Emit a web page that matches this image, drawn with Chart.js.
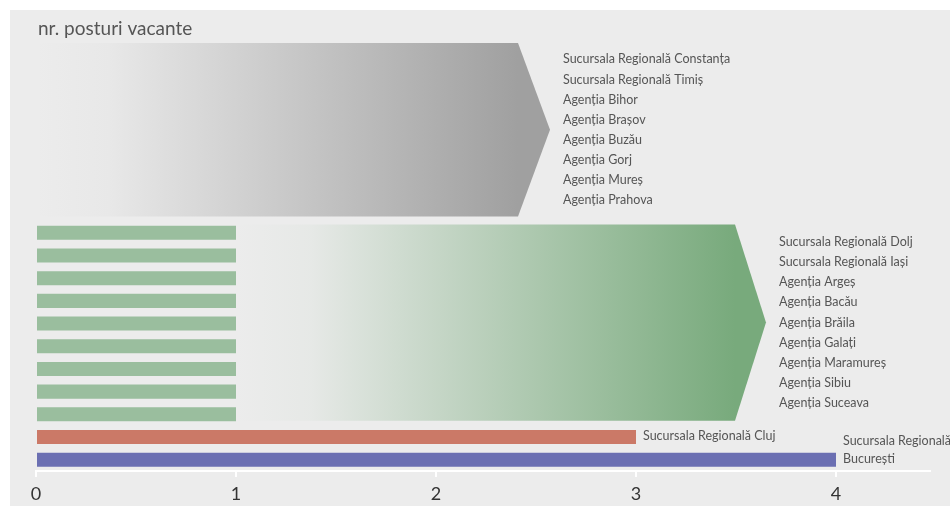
<!DOCTYPE html>
<html>
<head>
<meta charset="utf-8">
<script src="https://cdn.jsdelivr.net/npm/chart.js@4/dist/chart.umd.min.js"></script>
<style>
  html, body { margin: 0; padding: 0; background: #fff; }
  #wrap { width: 950px; height: 506px; }
</style>
</head>
<body>
<div id="wrap"><canvas id="vacancyChart" width="950" height="506"></canvas></div>
<script>
// agencies with no vacancies (grey arrow)
const noVacancy = [
  "Sucursala Regională Constanța",
  "Sucursala Regională Timiș",
  "Agenția Bihor",
  "Agenția Brașov",
  "Agenția Buzău",
  "Agenția Gorj",
  "Agenția Mureș",
  "Agenția Prahova",
];
// agencies with one vacancy (green arrow)
const oneVacancy = [
  "Sucursala Regională Dolj",
  "Sucursala Regională Iași",
  "Agenția Argeș",
  "Agenția Bacău",
  "Agenția Brăila",
  "Agenția Galați",
  "Agenția Maramureș",
  "Agenția Sibiu",
  "Agenția Suceava",
];
const others = ["Sucursala Regională Cluj", "Sucursala Regională București"];
const othersValues = [3, 4];
const othersLines = [["Sucursala Regională Cluj"], ["Sucursala Regională", "București"]];
const xTicks = [0, 1, 2, 3, 4];

const categories = [...noVacancy, ...oneVacancy, ...others];
const vacancies = [...noVacancy.map(() => 0), ...oneVacancy.map(() => 1), ...othersValues];
const barColors = [
  ...noVacancy.map(() => "#a5a5a5"),
  ...oneVacancy.map(() => "#9abe9e"),
  "#cb7967",
  "#6b6fb2",
];

const FONT = "Lato, 'Open Sans', sans-serif";
const TEXT = "#555555";

// panel background + title
const panelPlugin = {
  id: "panel",
  beforeDraw(chart) {
    const ctx = chart.ctx;
    ctx.save();
    ctx.fillStyle = "#ececec";
    ctx.fillRect(10, 10, chart.width - 10, chart.height - 10);
    ctx.fillStyle = TEXT;
    ctx.font = "19px " + FONT;
    ctx.textBaseline = "middle";
    ctx.fillText("nr. posturi vacante", 38, 29);
    ctx.restore();
  },
};

// gradient arrows behind the groups + their name lists
const arrowPlugin = {
  id: "arrows",
  beforeDatasetsDraw(chart) {
    const { ctx, scales } = chart;
    const x = scales.x, y = scales.y;
    const step = y.getPixelForValue(1) - y.getPixelForValue(0);
    const groups = [
      { from: 0, to: noVacancy.length - 1, x0: 0, x1: 2.41, tip: 2.57, color: [160, 160, 160], names: noVacancy },
      { from: noVacancy.length, to: noVacancy.length + oneVacancy.length - 1, x0: 1, x1: 3.495, tip: 3.65, color: [120, 170, 124], names: oneVacancy },
    ];
    groups.forEach(g => {
      const top = y.getPixelForValue(g.from) - step / 2 + 3;
      const bot = y.getPixelForValue(g.to) + step / 2 - 5;
      const mid = (top + bot) / 2;
      const left = x.getPixelForValue(g.x0);
      const right = x.getPixelForValue(g.x1);
      const tip = x.getPixelForValue(g.tip);
      const grad = ctx.createLinearGradient(left, 0, right, 0);
      const [r, gg, b] = g.color;
      grad.addColorStop(0, `rgba(${r},${gg},${b},0)`);
      grad.addColorStop(0.15, `rgba(${r},${gg},${b},0.05)`);
      grad.addColorStop(1, `rgba(${r},${gg},${b},1)`);
      ctx.save();
      ctx.beginPath();
      ctx.moveTo(left, top);
      ctx.lineTo(right, top);
      ctx.lineTo(tip, mid);
      ctx.lineTo(right, bot);
      ctx.lineTo(left, bot);
      ctx.closePath();
      ctx.fillStyle = grad;
      ctx.fill();

      ctx.fillStyle = TEXT;
      ctx.font = "12.5px " + FONT;
      ctx.textBaseline = "middle";
      const lh = 20.1;
      const y0 = mid - (g.names.length - 1) * lh / 2;
      g.names.forEach((n, i) => ctx.fillText(n, tip + 13, y0 + i * lh));
      ctx.restore();
    });
  },
  afterDatasetsDraw(chart) {
    const ctx = chart.ctx;
    const meta = chart.getDatasetMeta(0);
    ctx.save();
    ctx.fillStyle = TEXT;
    ctx.font = "12.5px " + FONT;
    ctx.textBaseline = "middle";
    othersLines.forEach((lines, k) => {
      const bar = meta.data[noVacancy.length + oneVacancy.length + k];
      const n = lines.length;
      lines.forEach((t, i) => {
        ctx.fillText(t, bar.x + 7, bar.y - 1 - (n - 1 - i) * 18);
      });
    });
    ctx.restore();
  },
};

new Chart(document.getElementById("vacancyChart"), {
  type: "bar",
  data: {
    labels: categories,
    datasets: [
      {
        data: vacancies,
        backgroundColor: barColors,
        borderWidth: 0,
        categoryPercentage: 1,
        barPercentage: 0.62,
      },
    ],
  },
  options: {
    indexAxis: "y",
    responsive: false,
    animation: false,
    layout: { padding: { left: 36, right: 20, top: 40, bottom: -5 } },
    plugins: {
      legend: { display: false },
      tooltip: { enabled: false },
    },
    scales: {
      y: { display: false },
      x: {
        min: 0,
        max: 4.47,
        afterBuildTicks(scale) {
          scale.ticks = xTicks.map(v => ({ value: v }));
        },
        grid: {
          drawOnChartArea: false,
          color: "#ffffff",
          tickLength: 6,
          lineWidth: 2,
        },
        border: { color: "#ffffff", width: 2 },
        ticks: {
          color: "#333333",
          padding: 8,
          font: { family: FONT, size: 18, lineHeight: 1 },
        },
      },
    },
  },
  plugins: [panelPlugin, arrowPlugin],
});
</script>
</body>
</html>
